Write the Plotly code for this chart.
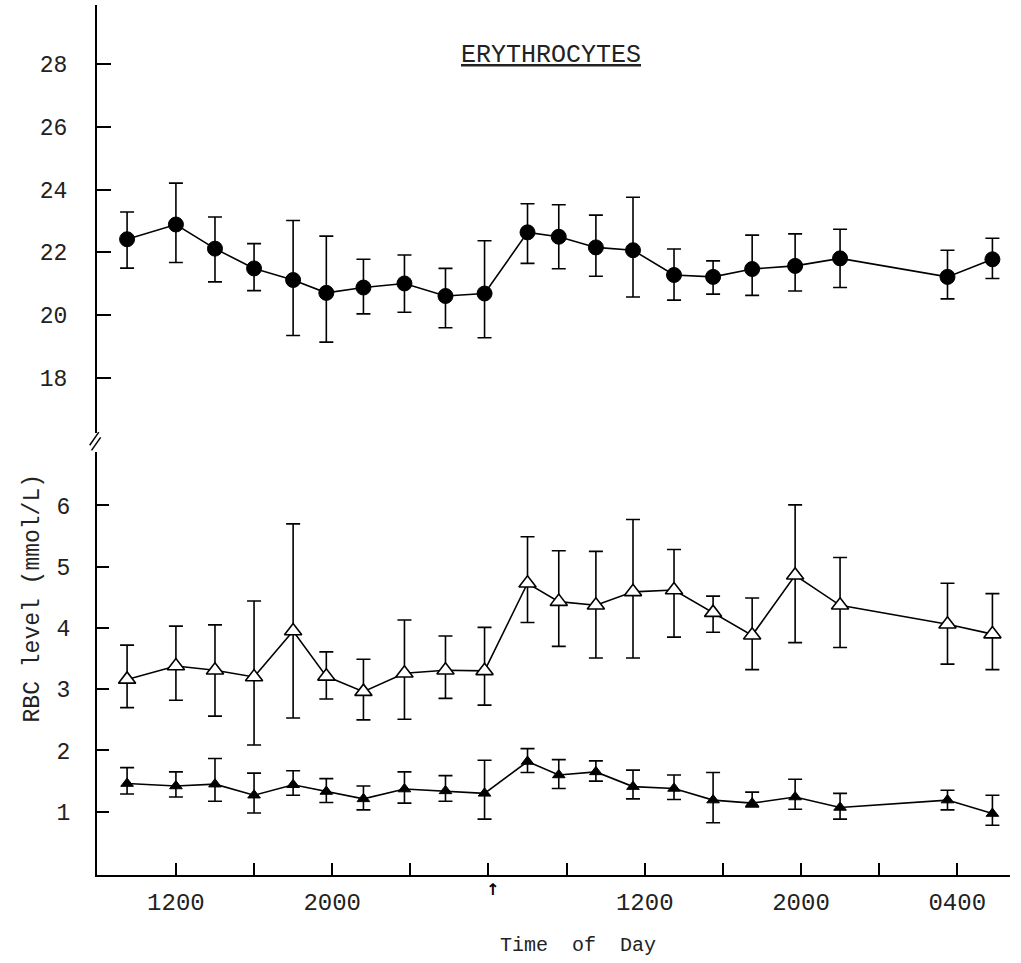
import plotly.graph_objects as go

# sampling times (hours from midnight of day 1)
hours = [9.5, 12, 14, 16, 18, 19.7, 21.6, 23.7, 25.8, 27.8, 30, 31.6, 33.5,
         35.4, 37.5, 39.5, 41.5, 43.7, 46, 51.5, 53.8]

# upper series (filled circles)
circ = [22.42, 22.89, 22.12, 21.49, 21.12, 20.71, 20.88, 21.01, 20.61, 20.69, 22.64,
        22.50, 22.16, 22.07, 21.28, 21.22, 21.47, 21.57, 21.81, 21.22, 21.78]
circ_hi = [23.29, 24.21, 23.13, 22.28, 23.02, 22.52, 21.78, 21.92, 21.49, 22.37, 23.55,
           23.52, 23.19, 23.76, 22.11, 21.73, 22.55, 22.59, 22.74, 22.07, 22.45]
circ_lo = [21.50, 21.68, 21.06, 20.78, 19.35, 19.14, 20.04, 20.09, 19.60, 19.28, 21.65,
           21.48, 21.24, 20.58, 20.48, 20.67, 20.63, 20.77, 20.88, 20.52, 21.17]

# middle series (open triangles)
otri = [3.16, 3.38, 3.31, 3.20, 3.95, 3.21, 2.96, 3.26, 3.31, 3.30, 4.73,
        4.43, 4.37, 4.59, 4.62, 4.25, 3.88, 4.86, 4.37, 4.06, 3.90]
otri_hi = [3.72, 4.03, 4.05, 4.44, 5.70, 3.61, 3.49, 4.13, 3.87, 4.01, 5.49,
           5.26, 5.25, 5.77, 5.28, 4.52, 4.49, 6.01, 5.15, 4.73, 4.56]
otri_lo = [2.70, 2.82, 2.56, 2.09, 2.53, 2.84, 2.50, 2.51, 2.85, 2.74, 4.09,
           3.70, 3.51, 3.51, 3.85, 3.93, 3.32, 3.76, 3.68, 3.41, 3.32]

# lower series (filled triangles)
ftri = [1.46, 1.42, 1.45, 1.27, 1.44, 1.33, 1.21, 1.37, 1.34, 1.30, 1.82,
        1.60, 1.65, 1.41, 1.38, 1.19, 1.14, 1.24, 1.07, 1.19, 0.97]
ftri_hi = [1.72, 1.65, 1.87, 1.63, 1.67, 1.54, 1.42, 1.65, 1.59, 1.84, 2.03,
           1.85, 1.83, 1.68, 1.60, 1.64, 1.32, 1.53, 1.30, 1.35, 1.27]
ftri_lo = [1.29, 1.24, 1.17, 0.98, 1.27, 1.15, 1.03, 1.14, 1.17, 0.88, 1.64,
           1.38, 1.50, 1.21, 1.20, 0.82, 1.08, 1.04, 0.88, 1.03, 0.78]

x_tickvals = [12, 16, 20, 24, 28, 32, 36, 40, 44, 48, 52]
x_ticktext = ["1200", "", "2000", "", "", "", "1200", "", "2000", "", "0400"]
upper_ticks = [18, 20, 22, 24, 26, 28]
lower_ticks = [1, 2, 3, 4, 5, 6]

MONO = "Liberation Mono"


def err(vals, hi, lo):
    return dict(type="data", symmetric=False,
                array=[h - v for h, v in zip(hi, vals)],
                arrayminus=[v - l for v, l in zip(vals, lo)],
                color="black", thickness=1.6, width=7)


fig = go.Figure()
fig.add_trace(go.Scatter(x=hours, y=circ, xaxis="x", yaxis="y2", mode="lines+markers",
                         line=dict(color="black", width=1.6),
                         marker=dict(symbol="circle", size=15, color="black",
                                     line=dict(color="black", width=1)),
                         error_y=err(circ, circ_hi, circ_lo)))
fig.add_trace(go.Scatter(x=hours, y=otri, xaxis="x", yaxis="y", mode="lines+markers",
                         line=dict(color="black", width=1.6),
                         marker=dict(symbol="triangle-up", size=15, color="white",
                                     line=dict(color="black", width=1.6)),
                         error_y=err(otri, otri_hi, otri_lo)))
fig.add_trace(go.Scatter(x=hours, y=ftri, xaxis="x", yaxis="y", mode="lines+markers",
                         line=dict(color="black", width=1.6),
                         marker=dict(symbol="triangle-up", size=11, color="black",
                                     line=dict(color="black", width=1)),
                         error_y=err(ftri, ftri_hi, ftri_lo)))

axis_common = dict(showline=True, linecolor="black", linewidth=2, ticks="inside",
                   tickcolor="black", tickwidth=1.6, showgrid=False, zeroline=False,
                   tickfont=dict(family=MONO, size=23, color="#222"))

fig.update_layout(
    width=1021, height=963,
    margin=dict(l=97, r=11, t=5, b=88),
    paper_bgcolor="white", plot_bgcolor="white",
    showlegend=False,
    xaxis=dict(axis_common, range=[7.96, 54.7], tickvals=x_tickvals, ticktext=x_ticktext,
               ticklen=12, anchor="y", ticklabelstandoff=4,
               tickfont=dict(family=MONO, size=24, color="#222")),
    yaxis=dict(axis_common, domain=[0, 0.486], range=[-0.033, 6.87],
               tickvals=lower_ticks, ticklen=12, anchor="x", ticklabelstandoff=20),
    yaxis2=dict(axis_common, domain=[0.508, 1.0], range=[16.24, 29.89],
                tickvals=upper_ticks, ticklen=14, anchor="x", ticklabelstandoff=23),
    annotations=[
        dict(text="<u>ERYTHROCYTES</u>", xref="paper", yref="paper", x=0.497, y=0.9425,
             xanchor="center", yanchor="middle",
             showarrow=False, font=dict(family=MONO, size=25, color="#222")),
        dict(text="RBC level (mmol/L)", xref="paper", yref="paper", x=-0.07, y=0.318,
             xanchor="center", yanchor="middle",
             textangle=-90, showarrow=False, font=dict(family=MONO, size=23, color="#222")),
        dict(text="Time  of  Day", xref="paper", yref="paper", x=0.527, y=-0.0805,
             xanchor="center", yanchor="middle",
             showarrow=False, font=dict(family=MONO, size=20, color="#222")),
        dict(text="<b>↑</b>", xref="x", yref="paper", x=28.2, y=-0.003, yanchor="top",
             xanchor="center",
             showarrow=False, font=dict(family="DejaVu Sans", size=16, color="black")),
    ],
    shapes=[
        dict(type="line", xref="paper", yref="paper", x0=-0.006, x1=0.004,
             y0=0.488, y1=0.503, line=dict(color="black", width=1.5)),
        dict(type="line", xref="paper", yref="paper", x0=-0.008, x1=0.002,
             y0=0.494, y1=0.509, line=dict(color="black", width=1.5)),
    ],
)

fig.write_html("out.html", config={"displayModeBar": False},
               post_script="document.body.style.margin='0';")
